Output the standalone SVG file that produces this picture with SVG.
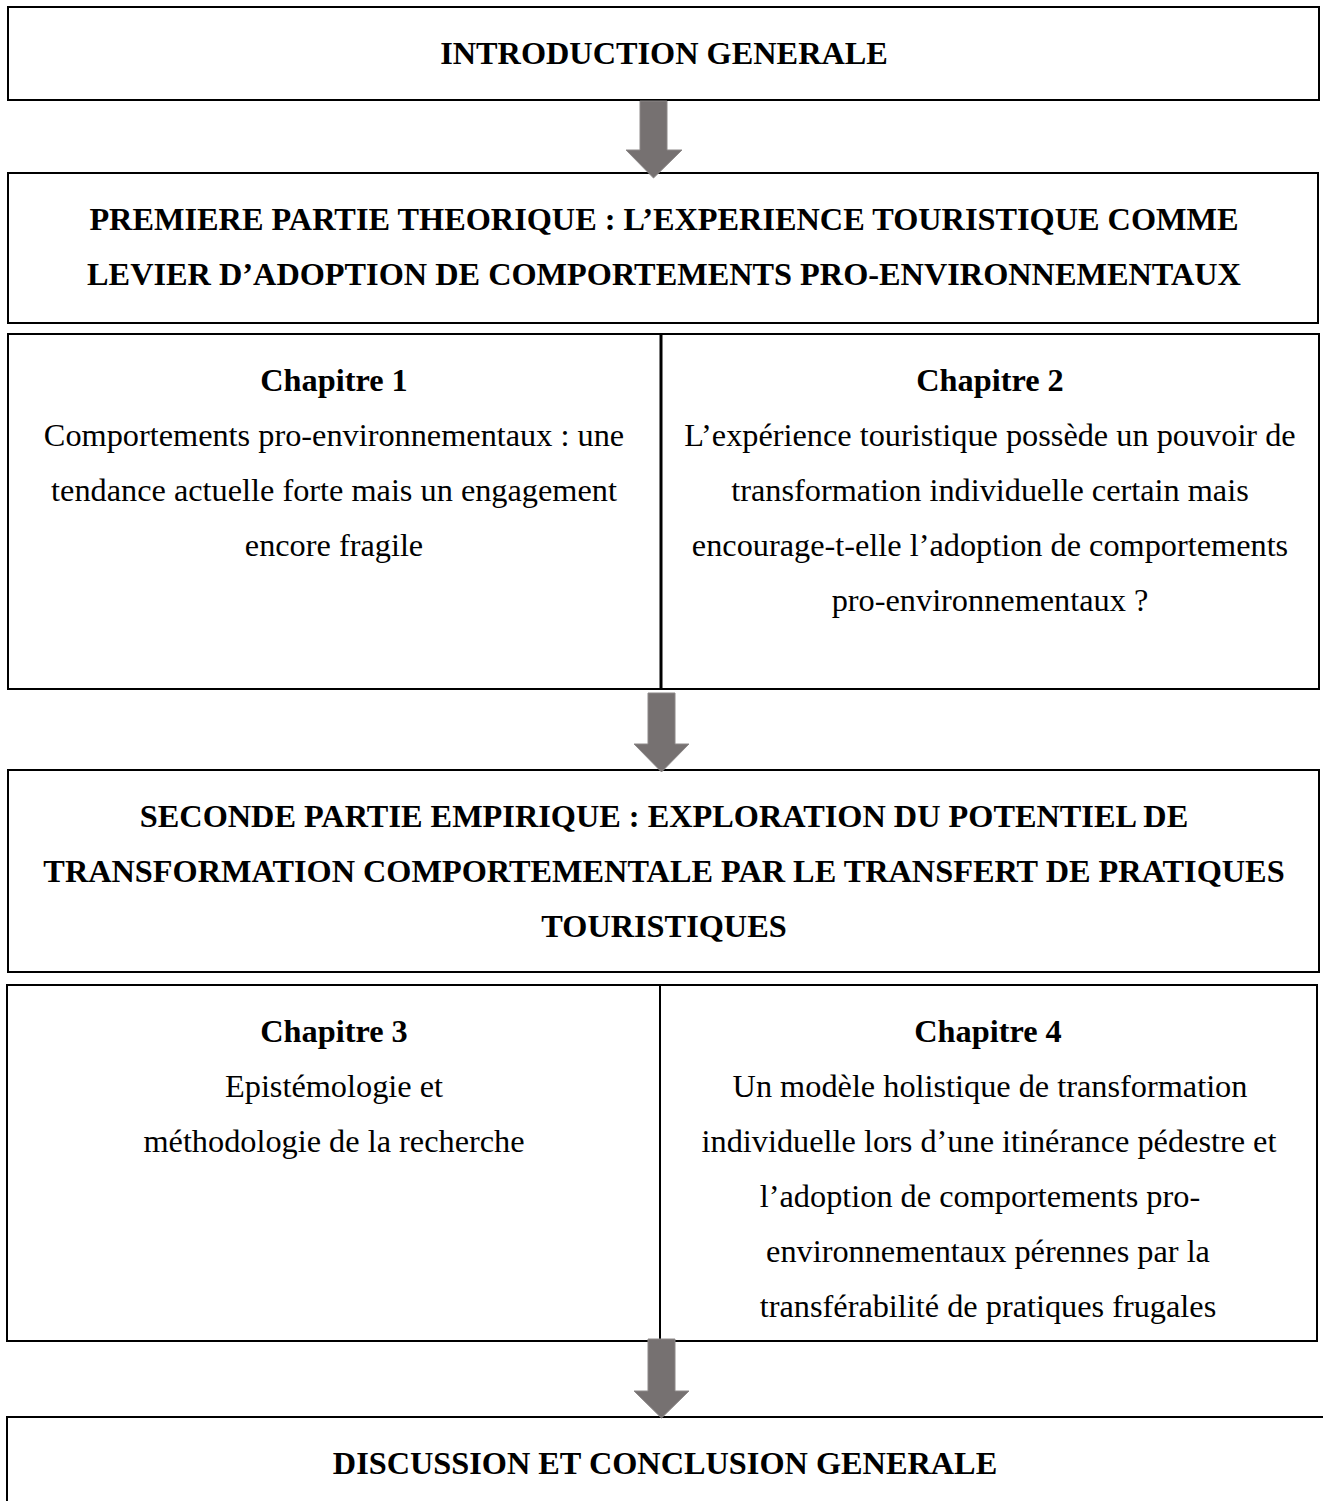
<svg xmlns="http://www.w3.org/2000/svg" width="1323" height="1501" viewBox="0 0 1323 1501">
<style>
.box{fill:#fff;stroke:#000;stroke-width:2}
.div{stroke:#000;stroke-width:2}
.t{font-family:"Liberation Serif","Times New Roman",serif;font-size:32.3px;fill:#000;text-anchor:middle}
.b{font-weight:bold}
.arr{fill:#767171;stroke:#8c8888;stroke-width:1}
</style>
<rect width="1323" height="1501" fill="#fff"/>
<g id="intro">
<rect class="box" x="8" y="7" width="1311" height="93"/>
<text class="t b" x="664" y="64">INTRODUCTION GENERALE</text>
</g>
<g id="partie1">
<rect class="box" x="8" y="173" width="1310" height="150"/>
<text class="t b" x="664" y="230">PREMIERE PARTIE THEORIQUE : L’EXPERIENCE TOURISTIQUE COMME</text>
<text class="t b" x="664" y="285">LEVIER D’ADOPTION DE COMPORTEMENTS PRO-ENVIRONNEMENTAUX</text>
</g>
<g id="chapitres12">
<rect class="box" x="8" y="334" width="1311" height="355"/>
<line class="div" x1="661" y1="334" x2="661" y2="689" style="stroke-width:3"/>
</g>
<g id="chapitre1">
<text class="t b" x="334" y="391">Chapitre 1</text>
<text class="t" x="334" y="446">Comportements pro-environnementaux : une</text>
<text class="t" x="334" y="501">tendance actuelle forte mais un engagement</text>
<text class="t" x="334" y="556">encore fragile</text>
</g>
<g id="chapitre2">
<text class="t b" x="990" y="391">Chapitre 2</text>
<text class="t" x="990" y="446">L’expérience touristique possède un pouvoir de</text>
<text class="t" x="990" y="501">transformation individuelle certain mais</text>
<text class="t" x="990" y="556">encourage-t-elle l’adoption de comportements</text>
<text class="t" x="990" y="611">pro-environnementaux ?</text>
</g>
<g id="partie2">
<rect class="box" x="8" y="770" width="1311" height="202"/>
<text class="t b" x="664" y="827">SECONDE PARTIE EMPIRIQUE : EXPLORATION DU POTENTIEL DE</text>
<text class="t b" x="664" y="882">TRANSFORMATION COMPORTEMENTALE PAR LE TRANSFERT DE PRATIQUES</text>
<text class="t b" x="664" y="937">TOURISTIQUES</text>
</g>
<g id="chapitres34">
<rect class="box" x="7" y="985" width="1310" height="356"/>
<line class="div" x1="660" y1="985" x2="660" y2="1341"/>
</g>
<g id="chapitre3">
<text class="t b" x="334" y="1042">Chapitre 3</text>
<text class="t" x="334" y="1097">Epistémologie et</text>
<text class="t" x="334" y="1152">méthodologie de la recherche</text>
</g>
<g id="chapitre4">
<text class="t b" x="988" y="1042">Chapitre 4</text>
<text class="t" x="990" y="1097">Un modèle holistique de transformation</text>
<text class="t" x="989" y="1152">individuelle lors d’une itinérance pédestre et</text>
<text class="t" x="980" y="1207">l’adoption de comportements pro-</text>
<text class="t" x="988" y="1262">environnementaux pérennes par la</text>
<text class="t" x="988" y="1317">transférabilité de pratiques frugales</text>
</g>
<g id="conclusion">
<rect class="box" x="7" y="1417" width="1330" height="100"/>
<text class="t b" x="665" y="1474">DISCUSSION ET CONCLUSION GENERALE</text>
</g>
<g id="connectors">
<polygon class="arr" points="640,101 667,101 667,150 682,150 653.5,178 626,150 640,150"/>
<polygon class="arr" points="648,693 675,693 675,744 689,744 661.5,772 634,744 648,744"/>
<polygon class="arr" points="648,1339 675,1339 675,1391 689,1391 661.5,1418 634,1391 648,1391"/>
</g>
</svg>
